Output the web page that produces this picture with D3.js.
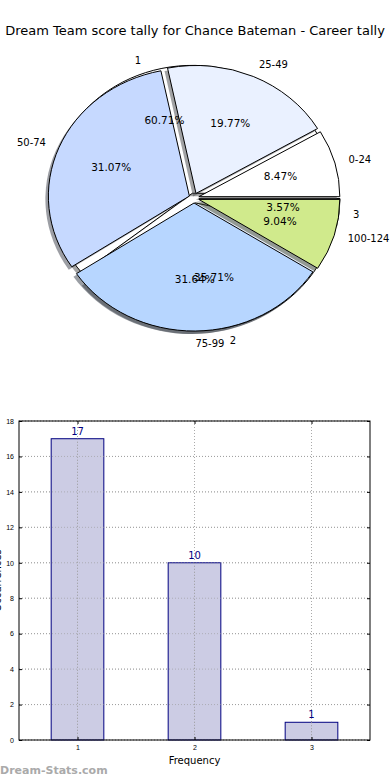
<!DOCTYPE html>
<html>
<head>
<meta charset="utf-8">
<script src="https://cdn.jsdelivr.net/npm/d3@7"></script>
<style>
  body { margin: 0; background: #fff; }
  svg { display: block; font-family: "DejaVu Sans", sans-serif; }
</style>
</head>
<body>
<div id="chart"></div>
<script>
// score bands (outer labels) and their share
const scoreLabels = ["0-24", "25-49", "50-74", "75-99", "100-124"];
const scoreShares = [8.47, 19.77, 31.07, 31.64, 9.04];
const scoreColors = ["#ffffff", "#eaf1ff", "#c6d9ff", "#b7d6ff", "#d0ea8c"];

// frequency pie (second pie drawn underneath)
const freqLabels = ["1", "2", "3"];
const freqShares = [60.71, 35.71, 3.57];

// bar chart
const barCats = ["1", "2", "3"];
const barValues = [17, 10, 1];
const yTicks = [0, 2, 4, 6, 8, 10, 12, 14, 16, 18];

const W = 390, H = 780;
const svg = d3.select("#chart").append("svg").attr("width", W).attr("height", H);

svg.append("text")
  .attr("x", 195).attr("y", 35)
  .attr("text-anchor", "middle")
  .style("font-size", "13px")
  .text("Dream Team score tally for Chance Bateman - Career tally");

//pie setup, ellipse since axes aren't square
const cx = 194, cy = 198;
const rx = 141, ry = 128;
const explode = 5;

const pie = d3.pie().sort(null).value(d => d.value)
  .startAngle(Math.PI / 2).endAngle(Math.PI / 2 - 2 * Math.PI);
const arc = d3.arc().innerRadius(0).outerRadius(1);

const pieG = svg.append("g");
const textG = svg.append("g");

function drawPie(labels, shares, colors) {
  const data = labels.map((l, i) => ({ label: l, value: shares[i], color: colors[i % colors.length] }));
  const slices = pie(data);
  slices.forEach(s => {
    const mid = (s.startAngle + s.endAngle) / 2;
    s.ux = Math.sin(mid);
    s.uy = -Math.cos(mid);
    s.ox = cx + s.ux * explode;
    s.oy = cy + s.uy * explode;
  });

  // shadows
  pieG.selectAll(null).data(slices).enter().append("path")
    .attr("transform", d => `translate(${d.ox - 3},${d.oy + 3}) scale(${rx},${ry})`)
    .attr("d", arc)
    .attr("fill", d => d3.rgb(d.data.color).darker(3.5))
    .attr("opacity", 0.5);

  pieG.selectAll(null).data(slices).enter().append("path")
    .attr("transform", d => `translate(${d.ox},${d.oy}) scale(${rx},${ry})`)
    .attr("d", arc)
    .attr("fill", d => d.data.color)
    .attr("stroke", "#000")
    .attr("stroke-width", 1)
    .attr("vector-effect", "non-scaling-stroke");

  // outer labels
  textG.selectAll(null).data(slices).enter().append("text")
    .attr("x", d => d.ox + d.ux * rx * 1.1)
    .attr("y", d => d.oy + d.uy * ry * 1.1)
    .attr("dy", "0.35em")
    .attr("text-anchor", d => d.ux > 0 ? "start" : "end")
    .style("font-size", "10px")
    .text(d => d.data.label);

  // percentages
  textG.selectAll(null).data(slices).enter().append("text")
    .attr("x", d => d.ox + d.ux * rx * 0.6)
    .attr("y", d => d.oy + d.uy * ry * 0.6)
    .attr("dy", "0.35em")
    .attr("text-anchor", "middle")
    .style("font-size", "10.5px")
    .text(d => d.data.value.toFixed(2) + "%");
}

drawPie(freqLabels, freqShares, scoreColors);
drawPie(scoreLabels, scoreShares, scoreColors);

//bar chart
const m = { left: 19, right: 370, top: 421, bottom: 740 };
const x = d3.scaleLinear().domain([0.5, 3.5]).range([m.left, m.right]);
const y = d3.scaleLinear().domain([0, 18]).range([m.bottom, m.top]);
const barW = 0.45;

const bg = svg.append("g");

// grid
bg.selectAll(null).data(yTicks).enter().append("line")
  .attr("x1", m.left).attr("x2", m.right)
  .attr("y1", d => y(d)).attr("y2", d => y(d))
  .attr("stroke", "#aaa").attr("stroke-dasharray", "1,2");
bg.selectAll(null).data(barCats).enter().append("line")
  .attr("x1", d => x(+d)).attr("x2", d => x(+d))
  .attr("y1", m.top).attr("y2", m.bottom)
  .attr("stroke", "#aaa").attr("stroke-dasharray", "1,2");

bg.selectAll(null).data(barValues).enter().append("rect")
  .attr("x", (d, i) => x(+barCats[i] - barW / 2))
  .attr("width", (d, i) => x(+barCats[i] + barW / 2) - x(+barCats[i] - barW / 2))
  .attr("y", d => y(d))
  .attr("height", d => y(0) - y(d))
  .attr("fill", "#ccccE4")
  .attr("stroke", "#000080");

// redraw grid on top of bars
bg.selectAll(null).data(barCats).enter().append("line")
  .attr("x1", d => x(+d)).attr("x2", d => x(+d))
  .attr("y1", (d, i) => y(barValues[i])).attr("y2", m.bottom)
  .attr("stroke", "#999").attr("stroke-dasharray", "1,2");
bg.selectAll(null).data(yTicks).enter().append("line")
  .attr("x1", m.left).attr("x2", m.right)
  .attr("y1", d => y(d)).attr("y2", d => y(d))
  .attr("stroke", "#999").attr("stroke-dasharray", "1,2")
  .attr("opacity", 0.6);

bg.selectAll(null).data(barValues).enter().append("text")
  .attr("x", (d, i) => x(+barCats[i]))
  .attr("y", d => y(d) - 4)
  .attr("text-anchor", "middle")
  .attr("fill", "#000080")
  .style("font-size", "10px")
  .text(d => d);

// axes
const yAxis = d3.axisLeft(y).tickValues(yTicks).tickSize(-3).tickPadding(5);
const yAxisR = d3.axisRight(y).tickValues(yTicks).tickSize(-3).tickFormat("");
const xAxis = d3.axisBottom(x).tickValues(barCats.map(Number)).tickSize(-3).tickPadding(5).tickFormat(d3.format("d"));
const xAxisT = d3.axisTop(x).tickValues(barCats.map(Number)).tickSize(-3).tickFormat("");

function styleAxis(g) {
  g.select(".domain").remove();
  g.selectAll("text").style("font-size", "7px").attr("fill", "#000");
  g.selectAll("line").attr("stroke", "#000");
}
bg.append("g").attr("transform", `translate(${m.left},0)`).call(yAxis).call(styleAxis);
bg.append("g").attr("transform", `translate(${m.right},0)`).call(yAxisR).call(styleAxis);
bg.append("g").attr("transform", `translate(0,${m.bottom})`).call(xAxis).call(styleAxis);
bg.append("g").attr("transform", `translate(0,${m.top})`).call(xAxisT).call(styleAxis);

bg.append("rect")
  .attr("x", m.left).attr("y", m.top)
  .attr("width", m.right - m.left).attr("height", m.bottom - m.top)
  .attr("fill", "none").attr("stroke", "#000");

bg.append("text")
  .attr("x", (m.left + m.right) / 2).attr("y", 764)
  .attr("text-anchor", "middle")
  .style("font-size", "10px")
  .text("Frequency");

bg.append("text")
  .attr("transform", `translate(1,${(m.top + m.bottom) / 2}) rotate(-90)`)
  .attr("text-anchor", "middle")
  .style("font-size", "10px")
  .text("Occurrences");

svg.append("text")
  .attr("x", 0).attr("y", 774)
  .attr("fill", "#aaa")
  .style("font-size", "11px")
  .style("font-weight", "bold")
  .text("Dream-Stats.com");
</script>
</body>
</html>
